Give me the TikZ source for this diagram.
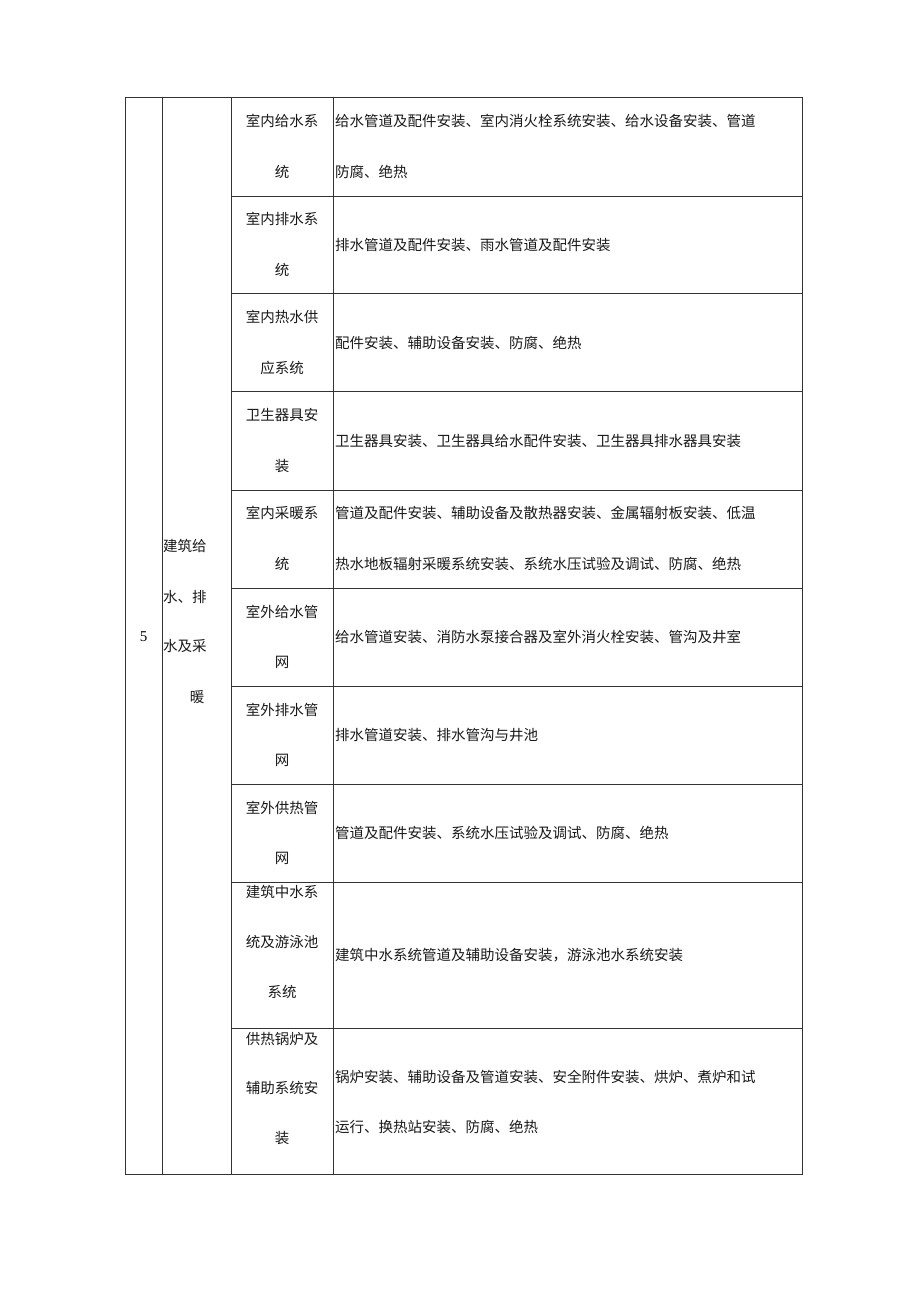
\documentclass[tikz,border=0pt]{standalone}
\usepackage{fontspec}
\newfontfamily\cjk{Noto Sans CJK SC}
\newfontfamily\serifnum{Liberation Serif}
\begin{document}
\begin{tikzpicture}[x=1pt,y=-1pt,
  grid/.style={draw=black!80,line width=0.9pt},
  txt/.style={inner sep=0pt,font=\cjk\fontsize{14.5}{14.5}\selectfont,text=black!90},
  lt/.style={txt,anchor=west},
  ct/.style={txt,anchor=center}]
\useasboundingbox (0,0) rectangle (920,1301);
% grid
\draw[grid] (125,97) rectangle (802,1174);
\draw[grid] (162,97) -- (162,1174);
\draw[grid] (231,97) -- (231,1174);
\draw[grid] (333,97) -- (333,1174);
\foreach \y in {196,293,391,490,588,686,784,882,1028}
  \draw[grid] (231,\y) -- (802,\y);
% column 1 and 2
\node[inner sep=0pt,font=\serifnum\fontsize{15}{15}\selectfont] (n5) at (143.5,637) {5};
\node[lt] (g1) at (163,546) {建筑给};
\node[lt] (g2) at (163,597) {水、排};
\node[lt] (g3) at (163,646) {水及采};
\node[ct] (g4) at (197,697) {暖};
% column 3
\node[ct] (a1a) at (282,121) {室内给水系};
\node[ct] (a1b) at (282,172) {统};
\node[ct] (a2a) at (282,219) {室内排水系};
\node[ct] (a2b) at (282,270) {统};
\node[ct] (a3a) at (282,317) {室内热水供};
\node[ct] (a3b) at (282,368) {应系统};
\node[ct] (a4a) at (282,415) {卫生器具安};
\node[ct] (a4b) at (282,466) {装};
\node[ct] (a5a) at (282,513) {室内采暖系};
\node[ct] (a5b) at (282,564) {统};
\node[ct] (a6a) at (282,612) {室外给水管};
\node[ct] (a6b) at (282,662) {网};
\node[ct] (a7a) at (282,710) {室外排水管};
\node[ct] (a7b) at (282,760) {网};
\node[ct] (a8a) at (282,808) {室外供热管};
\node[ct] (a8b) at (282,858) {网};
\node[ct] (a9a) at (282,892) {建筑中水系};
\node[ct] (a9b) at (282,942) {统及游泳池};
\node[ct] (a9c) at (282,992) {系统};
\node[ct] (a10a) at (282,1039) {供热锅炉及};
\node[ct] (a10b) at (282,1088) {辅助系统安};
\node[ct] (a10c) at (282,1138) {装};
% column 4
\node[lt] (b1a) at (335,121) {给水管道及配件安装、室内消火栓系统安装、给水设备安装、管道};
\node[lt] (b1b) at (335,172) {防腐、绝热};
\node[lt] (b2) at (335,245) {排水管道及配件安装、雨水管道及配件安装};
\node[lt] (b3) at (335,343) {配件安装、辅助设备安装、防腐、绝热};
\node[lt] (b4) at (335,441) {卫生器具安装、卫生器具给水配件安装、卫生器具排水器具安装};
\node[lt] (b5a) at (335,513) {管道及配件安装、辅助设备及散热器安装、金属辐射板安装、低温};
\node[lt] (b5b) at (335,564) {热水地板辐射采暖系统安装、系统水压试验及调试、防腐、绝热};
\node[lt] (b6) at (335,637) {给水管道安装、消防水泵接合器及室外消火栓安装、管沟及井室};
\node[lt] (b7) at (335,735) {排水管道安装、排水管沟与井池};
\node[lt] (b8) at (335,833) {管道及配件安装、系统水压试验及调试、防腐、绝热};
\node[lt] (b9) at (335,955) {建筑中水系统管道及辅助设备安装，游泳池水系统安装};
\node[lt] (b10a) at (335,1077) {锅炉安装、辅助设备及管道安装、安全附件安装、烘炉、煮炉和试};
\node[lt] (b10b) at (335,1127) {运行、换热站安装、防腐、绝热};
\end{tikzpicture}
\end{document}
